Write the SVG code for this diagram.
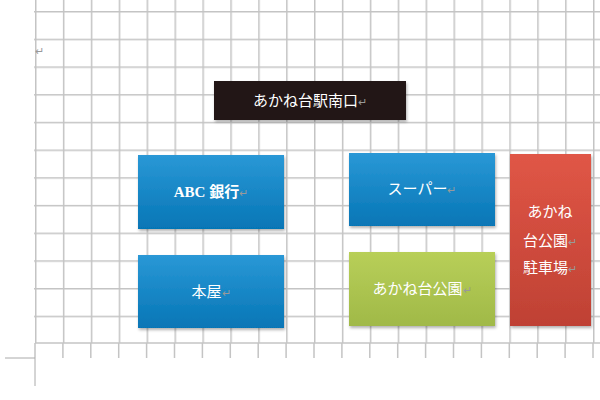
<svg xmlns="http://www.w3.org/2000/svg" width="600" height="400" viewBox="0 0 600 400">
<defs>
<pattern id="grid" x="35" y="11" width="27.9" height="27.7" patternUnits="userSpaceOnUse">
<path d="M0.75 0V27.7M0 0.75H27.9" stroke="#c4c4c4" stroke-width="1.5" fill="none"/>
</pattern>
<linearGradient id="blue" x1="0" y1="0" x2="0" y2="1"><stop offset="0" stop-color="#2a98d6"/><stop offset="1" stop-color="#0676b6"/></linearGradient>
<linearGradient id="green" x1="0" y1="0" x2="0" y2="1"><stop offset="0" stop-color="#b8cf58"/><stop offset="1" stop-color="#a0b948"/></linearGradient>
<linearGradient id="red" x1="0" y1="0" x2="0" y2="1"><stop offset="0" stop-color="#e05646"/><stop offset="1" stop-color="#bf4134"/></linearGradient>
<filter id="sh" x="-10%" y="-10%" width="130%" height="130%"><feDropShadow dx="1" dy="2" stdDeviation="1.5" flood-color="#000" flood-opacity="0.3"/></filter>
</defs>
<style>
.t{font-family:"Liberation Serif","Noto Sans CJK JP",serif;font-size:15px;fill:#fff;text-anchor:middle}
.r{fill:#999;font-size:11px;font-weight:normal}
</style>
<rect width="600" height="400" fill="#fff"/>
<rect x="34" y="0" width="566" height="343" fill="url(#grid)"/>
<g stroke="#c4c4c4" stroke-width="1.5">
<line x1="35" y1="343" x2="600" y2="343"/>
<path d="M35 343V358M62.9 343V358M90.8 343V358M118.7 343V358M146.6 343V358M174.5 343V358M202.4 343V358M230.3 343V358M258.2 343V358M286.1 343V358M314 343V358M341.9 343V358M369.8 343V358M397.7 343V358M425.6 343V358M453.5 343V358M481.4 343V358M509.3 343V358M537.2 343V358M565.1 343V358M593 343V358"/>
</g>
<g stroke="#aaa" stroke-width="1"><line x1="5" y1="358" x2="35" y2="358"/><line x1="35" y1="358" x2="35" y2="386"/></g>
<text x="35" y="55" font-family="Liberation Sans,sans-serif" font-size="11" fill="#999">↵</text>
<g id="station"><rect x="214" y="81" width="192" height="39" fill="#231815" filter="url(#sh)"/><text class="t" x="310" y="106">あかね台駅南口<tspan class="r">↵</tspan></text></g>
<g id="bank"><rect x="138" y="155" width="146" height="74" fill="url(#blue)" filter="url(#sh)"/><text class="t" x="211" y="197" font-weight="bold">ABC 銀行<tspan class="r">↵</tspan></text></g>
<g id="book"><rect x="138" y="255" width="146" height="73" fill="url(#blue)" filter="url(#sh)"/><text class="t" x="211" y="297">本屋<tspan class="r">↵</tspan></text></g>
<g id="super"><rect x="349" y="153" width="146" height="73" fill="url(#blue)" filter="url(#sh)"/><text class="t" x="422" y="194">スーパー<tspan class="r">↵</tspan></text></g>
<g id="park"><rect x="349" y="252" width="146" height="74" fill="url(#green)" filter="url(#sh)"/><text class="t" x="422" y="294">あかね台公園<tspan class="r">↵</tspan></text></g>
<g id="parking"><rect x="510" y="154" width="81" height="172" fill="url(#red)" filter="url(#sh)"/>
<text class="t" x="550" y="217">あかね</text>
<text class="t" x="550" y="246">台公園<tspan class="r">↵</tspan></text>
<text class="t" x="550" y="273">駐車場<tspan class="r">↵</tspan></text></g>
<g id="connectors"/>
</svg>
